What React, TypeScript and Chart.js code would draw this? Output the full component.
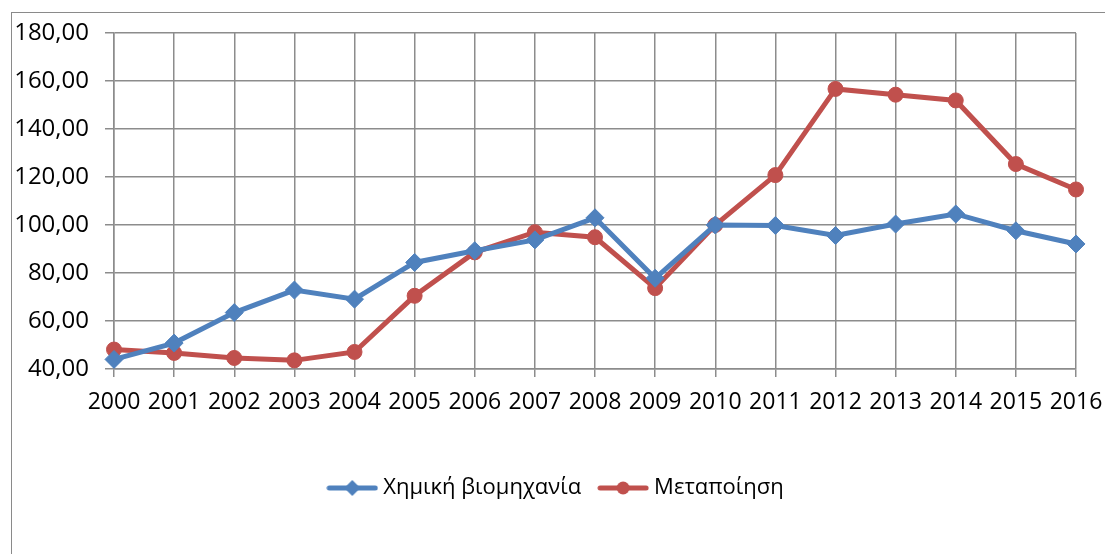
import React, { useEffect, useRef } from "react";
import { Chart, registerables } from "chart.js";

Chart.register(...registerables);

const years = ["2000", "2001", "2002", "2003", "2004", "2005", "2006", "2007", "2008", "2009", "2010", "2011", "2012", "2013", "2014", "2015", "2016"];
const chemical = [44.0, 50.8, 63.5, 72.9, 69.1, 84.4, 89.3, 93.8, 103.0, 77.8, 100.0, 99.8, 95.6, 100.4, 104.6, 97.6, 92.1];
const manufacturing = [48.1, 46.7, 44.6, 43.6, 47.1, 70.5, 88.6, 97.0, 94.9, 73.7, 100.0, 120.8, 156.7, 154.3, 151.9, 125.4, 114.8];
const seriesNames = ["Χημική βιομηχανία", "Μεταποίηση"];
const yMin = 40;
const yMax = 180;
const yStep = 20;

const BLUE = "#4F81BD";
const RED = "#C0504D";
const GRID = "#8c8c8c";
const FONT = "'Open Sans', 'Noto Sans', sans-serif";

function legendIcon(color: string, shape: "diamond" | "circle") {
  const c = document.createElement("canvas");
  c.width = 52;
  c.height = 20;
  const ctx = c.getContext("2d")!;
  ctx.strokeStyle = color;
  ctx.fillStyle = color;
  ctx.lineWidth = 5;
  ctx.lineCap = "round";
  ctx.beginPath();
  ctx.moveTo(3, 10);
  ctx.lineTo(49, 10);
  ctx.stroke();
  ctx.beginPath();
  if (shape === "diamond") {
    ctx.moveTo(26, 2);
    ctx.lineTo(34, 10);
    ctx.lineTo(26, 18);
    ctx.lineTo(18, 10);
    ctx.closePath();
  } else {
    ctx.arc(26, 10, 6.5, 0, Math.PI * 2);
  }
  ctx.fill();
  return c;
}

const legendShift = {
  id: "legendShift",
  afterLayout(chart: any) {
    if (chart.legend) {
      chart.legend.left += 20;
      chart.legend.right += 20;
    }
  },
};

export default function App() {
  const ref = useRef<HTMLCanvasElement | null>(null);

  useEffect(() => {
    if (!ref.current) return;
    const icons = [legendIcon(BLUE, "diamond"), legendIcon(RED, "circle")];
    const chart = new Chart(ref.current, {
      type: "line",
      plugins: [legendShift],
      data: {
        labels: years,
        datasets: [
          {
            label: seriesNames[0],
            data: chemical,
            borderColor: BLUE,
            backgroundColor: BLUE,
            borderWidth: 5,
            pointStyle: "rectRot",
            pointRadius: 9,
            pointBorderWidth: 1,
            tension: 0,
          },
          {
            label: seriesNames[1],
            data: manufacturing,
            borderColor: RED,
            backgroundColor: RED,
            borderWidth: 5,
            pointStyle: "circle",
            pointRadius: 7.5,
            pointBorderWidth: 1,
            tension: 0,
          },
        ],
      },
      options: {
        animation: false,
        responsive: false,
        maintainAspectRatio: false,
        layout: { padding: { left: 0, top: 33, right: 29, bottom: 45 } },
        plugins: {
          tooltip: { enabled: false },
          legend: {
            position: "bottom",
            labels: {
              color: "#000",
              font: { family: FONT, size: 22 },
              usePointStyle: true,
              pointStyleWidth: 40,
              boxHeight: 22,
              padding: 22,
              generateLabels: (ch: any) =>
                ch.data.datasets.map((ds: any, i: number) => ({
                  text: ds.label,
                  pointStyle: icons[i],
                  fillStyle: ds.borderColor,
                  strokeStyle: ds.borderColor,
                  lineWidth: 0,
                  hidden: false,
                  datasetIndex: i,
                  fontColor: "#000",
                })),
            },
          },
        },
        scales: {
          x: {
            grid: { color: GRID, lineWidth: 1.5, tickLength: 8, drawTicks: true },
            border: { color: GRID, width: 1.5 },
            ticks: { color: "#000", font: { family: FONT, size: 23 }, padding: 12, maxRotation: 0, autoSkip: false },
            afterFit: (s: any) => {
              s.height = 86;
              s.paddingLeft = 0;
              s.paddingRight = 0;
            },
          },
          y: {
            min: yMin,
            max: yMax,
            grid: { color: GRID, lineWidth: 1.5, tickLength: 9 },
            border: { color: GRID, width: 1.5 },
            ticks: {
              stepSize: yStep,
              color: "#000",
              font: { family: FONT, size: 24 },
              padding: 16,
              callback: (v: any) => Number(v).toFixed(2).replace(".", ","),
            },
            afterFit: (s: any) => {
              s.width = 114;
            },
          },
        },
      },
    });
    return () => chart.destroy();
  }, []);

  return (
    <div style={{ position: "fixed", left: 0, top: 0, width: 1105, height: 554, overflow: "hidden", background: "#fff" }}>
      <div
        style={{
          position: "absolute",
          left: 11,
          top: 12,
          width: 1200,
          height: 1000,
          border: "1px solid #8a8a8a",
          boxSizing: "border-box",
        }}
      />
      <canvas ref={ref} width={1105} height={554} style={{ position: "absolute", left: 0, top: 0, width: 1105, height: 554 }} />
    </div>
  );
}
